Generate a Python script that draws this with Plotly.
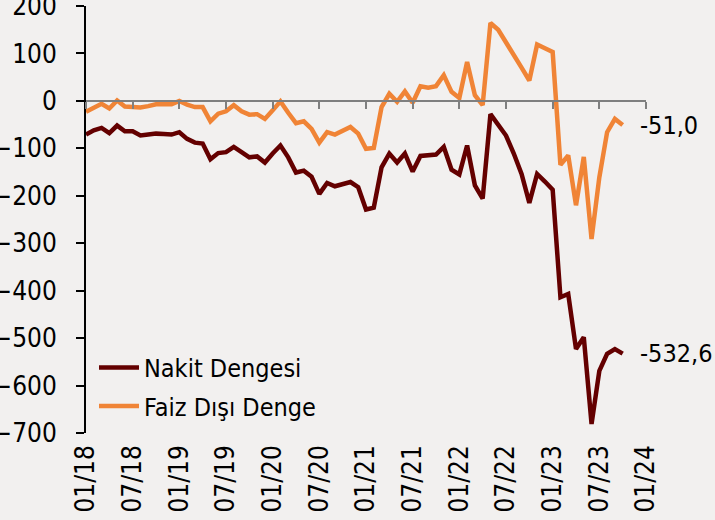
import plotly.graph_objects as go

# month index 0 = 01/2018 ... 69 = 10/2023
months = list(range(70))
nakit_dengesi = [-71, -62, -57, -68, -52, -64, -64, -73, -71, -69,
                 -70, -71, -66, -80, -88, -90, -123, -110, -108, -97,
                 -108, -119, -117, -130, -111, -94, -119, -151, -147, -160,
                 -196, -173, -180, -176, -171, -182, -229, -225, -140, -111,
                 -130, -111, -149, -116, -115, -113, -97, -145, -155, -94,
                 -178, -206, -28, -50, -73, -111, -154, -215, -154, -170,
                 -187, -414, -407, -523, -498, -681, -569, -533, -523, -532.6]
faiz_disi_denge = [-23, -14, -6, -16, 1, -12, -12, -14, -11, -7,
                   -7, -7, 0, -8, -13, -13, -43, -27, -22, -9,
                   -22, -29, -28, -38, -20, -1, -25, -47, -43, -59,
                   -88, -66, -71, -62, -55, -69, -101, -99, -13, 15,
                   -2, 20, -4, 31, 28, 31, 54, 19, 6, 82,
                   12, -9, 164, 150, 122, 96, 70, 43, 119, 111,
                   103, -135, -115, -220, -118, -291, -161, -66, -38, -51.0]
tick_positions = [0, 6, 12, 18, 24, 30, 36, 42, 48, 54, 60, 66, 72]
tick_labels = ["01/18", "07/18", "01/19", "07/19", "01/20", "07/20", "01/21",
               "07/21", "01/22", "07/22", "01/23", "07/23", "01/24"]
y_ticks = [200, 100, 0, -100, -200, -300, -400, -500, -600, -700]

FONT = "DejaVu Sans Condensed, DejaVu Sans, sans-serif"
BG = "#F2F0EF"
DARK = "#640000"
ORANGE = "#F08436"
YMIN, YMAX = -700, 200

fig = go.Figure()
fig.add_trace(go.Scatter(x=months, y=nakit_dengesi, mode="lines", name="Nakit Dengesi",
                         legendgroup="a",
                         line=dict(color=DARK, width=4.5), xaxis="x", yaxis="y"))
fig.add_trace(go.Scatter(x=months, y=faiz_disi_denge, mode="lines", name="Faiz Dışı Denge",
                         legendgroup="b",
                         line=dict(color=ORANGE, width=4.5), xaxis="x2", yaxis="y"))

def fmt(v):
    return f"{v:.1f}".replace(".", ",")

for series in (nakit_dengesi, faiz_disi_denge):
    fig.add_annotation(x=months[-1], y=series[-1], text=fmt(series[-1]), showarrow=False,
                       xanchor="left", yanchor="middle", xshift=15,
                       font=dict(family=FONT, size=25, color="#000000"))

fig.update_layout(
    width=715, height=520,
    margin=dict(l=86, r=69, t=6, b=87, pad=0, autoexpand=False),
    paper_bgcolor=BG, plot_bgcolor=BG,
    font=dict(family=FONT, size=26, color="#000000"),
    showlegend=True,
    legend=dict(x=0.0143, y=0.010, xanchor="left", yanchor="bottom",
                bgcolor="rgba(0,0,0,0)", font=dict(size=25, family=FONT),
                traceorder="grouped", tracegroupgap=3, itemwidth=40),
    xaxis=dict(range=[0, 72], tickmode="array", tickvals=tick_positions, ticktext=tick_labels,
               tickangle=-90, showline=False, ticks="", showgrid=False, zeroline=False,
               ticklabelstandoff=6, tickfont=dict(size=26), automargin=False,
               ticklabeloverflow="allow"),
    xaxis2=dict(matches="x", overlaying="x", anchor="free",
                position=(0 - YMIN) / (YMAX - YMIN),
                tickmode="array", tickvals=tick_positions, showticklabels=False,
                showline=True, linecolor="#7F7F7F", linewidth=1.5,
                ticks="outside", ticklen=7, tickcolor="#7F7F7F", tickwidth=1.5,
                showgrid=False, zeroline=False, automargin=False),
    yaxis=dict(range=[YMIN, YMAX], tickmode="array", tickvals=y_ticks,
               showline=True, linecolor="#000000", linewidth=2,
               ticks="outside", ticklen=8, tickcolor="#000000", tickwidth=1.5,
               showgrid=False, zeroline=False, ticklabelstandoff=14,
               tickfont=dict(size=26), automargin=False, ticklabeloverflow="allow"),
)

fig.write_html("out.html", config={"displayModeBar": False},
               post_script="document.body.style.margin='0px';document.body.style.background='%s';" % BG)
